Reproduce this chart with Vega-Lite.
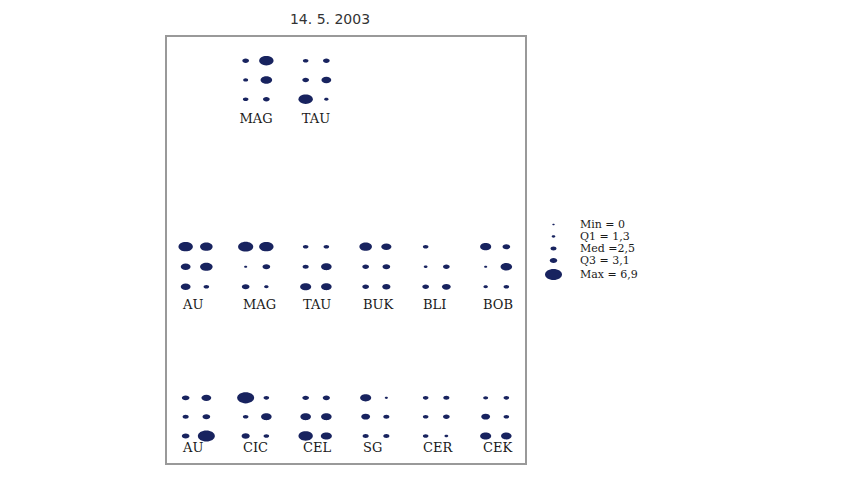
{
  "$schema": "https://vega.github.io/schema/vega-lite/v6.json",
  "width": 360,
  "height": 428,
  "autosize": {"type": "none"},
  "padding": {"left": 166, "top": 36, "right": 340, "bottom": 18},
  "background": "white",
  "config": {"view": {"stroke": "#999999", "strokeWidth": 2}},
  "title": {"text": "14. 5. 2003", "font": "DejaVu Sans", "fontSize": 14, "fontWeight": "normal", "color": "#333333", "dx": -16, "offset": 9},
  "datasets": {
    "dots": [
      {"site": "MAG", "col": 2, "side": "L", "y": 1.27, "value": 2.8},
      {"site": "MAG", "col": 2, "side": "L", "y": 2.26, "value": 2.0},
      {"site": "MAG", "col": 2, "side": "L", "y": 3.25, "value": 2.3},
      {"site": "MAG", "col": 2, "side": "R", "y": 1.27, "value": 5.9},
      {"site": "MAG", "col": 2, "side": "R", "y": 2.26, "value": 4.8},
      {"site": "MAG", "col": 2, "side": "R", "y": 3.25, "value": 2.8},
      {"site": "TAU", "col": 3, "side": "L", "y": 1.27, "value": 2.3},
      {"site": "TAU", "col": 3, "side": "L", "y": 2.26, "value": 2.8},
      {"site": "TAU", "col": 3, "side": "L", "y": 3.25, "value": 5.9},
      {"site": "TAU", "col": 3, "side": "R", "y": 1.27, "value": 2.8},
      {"site": "TAU", "col": 3, "side": "R", "y": 2.26, "value": 4.1},
      {"site": "TAU", "col": 3, "side": "R", "y": 3.25, "value": 1.8},

      {"site": "AU", "col": 1, "side": "L", "y": 10.83, "value": 5.9},
      {"site": "AU", "col": 1, "side": "L", "y": 11.86, "value": 4.1},
      {"site": "AU", "col": 1, "side": "L", "y": 12.89, "value": 4.1},
      {"site": "AU", "col": 1, "side": "R", "y": 10.83, "value": 5.2},
      {"site": "AU", "col": 1, "side": "R", "y": 11.86, "value": 5.2},
      {"site": "AU", "col": 1, "side": "R", "y": 12.89, "value": 2.3},
      {"site": "MAG", "col": 2, "side": "L", "y": 10.83, "value": 6.2},
      {"site": "MAG", "col": 2, "side": "L", "y": 11.86, "value": 1.0},
      {"site": "MAG", "col": 2, "side": "L", "y": 12.89, "value": 3.2},
      {"site": "MAG", "col": 2, "side": "R", "y": 10.83, "value": 5.9},
      {"site": "MAG", "col": 2, "side": "R", "y": 11.86, "value": 3.2},
      {"site": "MAG", "col": 2, "side": "R", "y": 12.89, "value": 1.8},
      {"site": "TAU", "col": 3, "side": "L", "y": 10.83, "value": 2.3},
      {"site": "TAU", "col": 3, "side": "L", "y": 11.86, "value": 2.55},
      {"site": "TAU", "col": 3, "side": "L", "y": 12.89, "value": 4.6},
      {"site": "TAU", "col": 3, "side": "R", "y": 10.83, "value": 2.3},
      {"site": "TAU", "col": 3, "side": "R", "y": 11.86, "value": 4.4},
      {"site": "TAU", "col": 3, "side": "R", "y": 12.89, "value": 4.4},
      {"site": "BUK", "col": 4, "side": "L", "y": 10.83, "value": 5.2},
      {"site": "BUK", "col": 4, "side": "L", "y": 11.86, "value": 2.8},
      {"site": "BUK", "col": 4, "side": "L", "y": 12.89, "value": 2.8},
      {"site": "BUK", "col": 4, "side": "R", "y": 10.83, "value": 4.25},
      {"site": "BUK", "col": 4, "side": "R", "y": 11.86, "value": 3.2},
      {"site": "BUK", "col": 4, "side": "R", "y": 12.89, "value": 3.45},
      {"site": "BLI", "col": 5, "side": "L", "y": 10.83, "value": 2.3},
      {"site": "BLI", "col": 5, "side": "L", "y": 11.86, "value": 1.4},
      {"site": "BLI", "col": 5, "side": "L", "y": 12.89, "value": 2.8},
      {"site": "BLI", "col": 5, "side": "R", "y": 11.86, "value": 2.8},
      {"site": "BLI", "col": 5, "side": "R", "y": 12.89, "value": 3.7},
      {"site": "BOB", "col": 6, "side": "L", "y": 10.83, "value": 4.6},
      {"site": "BOB", "col": 6, "side": "L", "y": 11.86, "value": 1.0},
      {"site": "BOB", "col": 6, "side": "L", "y": 12.89, "value": 1.8},
      {"site": "BOB", "col": 6, "side": "R", "y": 10.83, "value": 3.2},
      {"site": "BOB", "col": 6, "side": "R", "y": 11.86, "value": 4.8},
      {"site": "BOB", "col": 6, "side": "R", "y": 12.89, "value": 2.3},

      {"site": "AU", "col": 1, "side": "L", "y": 18.6, "value": 3.2},
      {"site": "AU", "col": 1, "side": "L", "y": 19.57, "value": 2.55},
      {"site": "AU", "col": 1, "side": "L", "y": 20.56, "value": 3.2},
      {"site": "AU", "col": 1, "side": "R", "y": 18.6, "value": 4.1},
      {"site": "AU", "col": 1, "side": "R", "y": 19.57, "value": 3.2},
      {"site": "AU", "col": 1, "side": "R", "y": 20.56, "value": 6.9},
      {"site": "CIC", "col": 2, "side": "L", "y": 18.6, "value": 6.9},
      {"site": "CIC", "col": 2, "side": "L", "y": 19.57, "value": 2.3},
      {"site": "CIC", "col": 2, "side": "L", "y": 20.56, "value": 3.45},
      {"site": "CIC", "col": 2, "side": "R", "y": 18.6, "value": 2.3},
      {"site": "CIC", "col": 2, "side": "R", "y": 19.57, "value": 4.4},
      {"site": "CIC", "col": 2, "side": "R", "y": 20.56, "value": 2.3},
      {"site": "CEL", "col": 3, "side": "L", "y": 18.6, "value": 2.8},
      {"site": "CEL", "col": 3, "side": "L", "y": 19.57, "value": 4.4},
      {"site": "CEL", "col": 3, "side": "L", "y": 20.56, "value": 5.9},
      {"site": "CEL", "col": 3, "side": "R", "y": 18.6, "value": 3.0},
      {"site": "CEL", "col": 3, "side": "R", "y": 19.57, "value": 4.4},
      {"site": "CEL", "col": 3, "side": "R", "y": 20.56, "value": 4.6},
      {"site": "SG", "col": 4, "side": "L", "y": 18.6, "value": 4.6},
      {"site": "SG", "col": 4, "side": "L", "y": 19.57, "value": 3.7},
      {"site": "SG", "col": 4, "side": "L", "y": 20.56, "value": 2.55},
      {"site": "SG", "col": 4, "side": "R", "y": 18.6, "value": 1.0},
      {"site": "SG", "col": 4, "side": "R", "y": 19.57, "value": 2.55},
      {"site": "SG", "col": 4, "side": "R", "y": 20.56, "value": 2.55},
      {"site": "CER", "col": 5, "side": "L", "y": 18.6, "value": 2.3},
      {"site": "CER", "col": 5, "side": "L", "y": 19.57, "value": 2.3},
      {"site": "CER", "col": 5, "side": "L", "y": 20.56, "value": 2.3},
      {"site": "CER", "col": 5, "side": "R", "y": 18.6, "value": 2.55},
      {"site": "CER", "col": 5, "side": "R", "y": 19.57, "value": 2.8},
      {"site": "CER", "col": 5, "side": "R", "y": 20.56, "value": 1.4},
      {"site": "CEK", "col": 6, "side": "L", "y": 18.6, "value": 2.0},
      {"site": "CEK", "col": 6, "side": "L", "y": 19.57, "value": 3.7},
      {"site": "CEK", "col": 6, "side": "L", "y": 20.56, "value": 4.6},
      {"site": "CEK", "col": 6, "side": "R", "y": 18.6, "value": 2.3},
      {"site": "CEK", "col": 6, "side": "R", "y": 19.57, "value": 2.3},
      {"site": "CEK", "col": 6, "side": "R", "y": 20.56, "value": 4.4}
    ],
    "labels": [
      {"label": "MAG", "col": 2, "y": 4.28, "grp": "top"},
      {"label": "TAU", "col": 3, "y": 4.28, "grp": "top"},
      {"label": "AU", "col": 1, "y": 13.83, "grp": "mid"},
      {"label": "MAG", "col": 2, "y": 13.83, "grp": "mid"},
      {"label": "TAU", "col": 3, "y": 13.83, "grp": "mid"},
      {"label": "BUK", "col": 4, "y": 13.83, "grp": "mid"},
      {"label": "BLI", "col": 5, "y": 13.83, "grp": "mid"},
      {"label": "BOB", "col": 6, "y": 13.83, "grp": "mid"},
      {"label": "AU", "col": 1, "y": 21.18, "grp": "bot"},
      {"label": "CIC", "col": 2, "y": 21.18, "grp": "bot"},
      {"label": "CEL", "col": 3, "y": 21.18, "grp": "bot"},
      {"label": "SG", "col": 4, "y": 21.18, "grp": "bot"},
      {"label": "CER", "col": 5, "y": 21.18, "grp": "bot"},
      {"label": "CEK", "col": 6, "y": 21.18, "grp": "bot"}
    ]
  },
  "layer": [
    {
      "data": {"name": "dots"},
      "mark": {
        "type": "point",
        "filled": true,
        "opacity": 1,
        "color": "#18235f",
        "strokeWidth": 0,
        "shape": "M-1,0 C-1,-0.36 -0.552,-0.65 0,-0.65 C0.552,-0.65 1,-0.36 1,0 C1,0.36 0.552,0.65 0,0.65 C-0.552,0.65 -1,0.36 -1,0 Z"
      },
      "encoding": {
        "x": {"field": "col", "type": "ordinal", "scale": {"domain": [1, 2, 3, 4, 5, 6], "paddingInner": 0, "paddingOuter": 0}, "axis": null},
        "xOffset": {"field": "side", "type": "nominal", "scale": {"domain": ["L", "R"], "paddingInner": 0, "paddingOuter": 0.95}},
        "y": {"field": "y", "type": "quantitative", "scale": {"domain": [0, 22], "reverse": true, "nice": false, "zero": false}, "axis": null},
        "size": {
          "field": "value",
          "type": "quantitative",
          "scale": {"type": "pow", "exponent": 2.2, "domain": [0, 6.9], "range": [6, 289]},
          "legend": {
            "values": [0, 1.3, 2.5, 3.1, 6.9],
            "title": null,
            "orient": "none",
            "direction": "vertical",
            "legendX": 379,
            "legendY": 183,
            "padding": 0,
            "rowPadding": 0,
            "labelOffset": 18,
            "labelFont": "DejaVu Serif",
            "labelFontSize": 11,
            "labelColor": "#1a1a1a",
            "symbolType": "M-1,0 C-1,-0.36 -0.552,-0.65 0,-0.65 C0.552,-0.65 1,-0.36 1,0 C1,0.36 0.552,0.65 0,0.65 C-0.552,0.65 -1,0.36 -1,0 Z",
            "symbolFillColor": "#18235f",
            "symbolStrokeWidth": 0,
            "symbolOpacity": 1,
            "labelExpr": "datum.value == 0 ? 'Min = 0' : datum.value == 1.3 ? 'Q1 = 1,3' : datum.value == 2.5 ? 'Med =2,5' : datum.value == 3.1 ? 'Q3 = 3,1' : 'Max = 6,9'"
          }
        }
      }
    },
    {
      "data": {"name": "labels"},
      "transform": [{"filter": "datum.grp != 'top'"}],
      "mark": {"type": "text", "align": "left", "dx": -13, "baseline": "middle", "font": "DejaVu Serif", "fontSize": 13, "color": "#1a1a1a"},
      "encoding": {
        "x": {"field": "col", "type": "ordinal"},
        "y": {"field": "y", "type": "quantitative"},
        "text": {"field": "label"}
      }
    },
    {
      "data": {"name": "labels"},
      "transform": [{"filter": "datum.grp == 'top'"}],
      "mark": {"type": "text", "align": "center", "baseline": "middle", "font": "DejaVu Serif", "fontSize": 13, "color": "#1a1a1a"},
      "encoding": {
        "x": {"field": "col", "type": "ordinal"},
        "y": {"field": "y", "type": "quantitative"},
        "text": {"field": "label"}
      }
    }
  ]
}
